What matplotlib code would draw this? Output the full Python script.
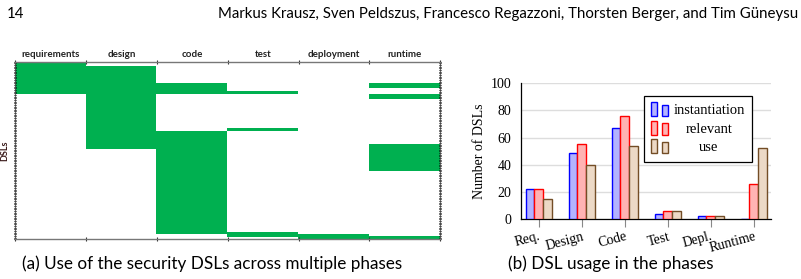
import numpy as np
import matplotlib
matplotlib.use("Agg")
import matplotlib.pyplot as plt
from matplotlib.colors import ListedColormap
from matplotlib.legend_handler import HandlerBase
from matplotlib.patches import Rectangle

# ---------------- data ----------------
phases = ["requirements", "design", "code", "test", "deployment", "runtime"]
n_dsls = 107
requirements_rows = [(0, 20)]
design_rows = [(3, 53)]
code_rows = [(13, 20), (42, 104)]
test_rows = [(18, 20), (40, 42), (103, 106)]
deployment_rows = [(104, 107)]
runtime_rows = [(13, 16), (20, 23), (50, 66), (105, 107)]

categories = ["Req.", "Design", "Code", "Test", "Depl.", "Runtime"]
instantiation = [22, 49, 67, 4, 2, 0]
relevant = [22, 55, 76, 6, 2, 26]
use = [15, 40, 54, 6, 2, 52]
series_names = ["instantiation", "relevant", "use"]

# ---------------- figure ----------------
fig = plt.figure(figsize=(8.01, 2.79), dpi=100)
W, H = 801, 279

def axrect(x0, y0, x1, y1):
    return [x0 / W, 1 - y1 / H, (x1 - x0) / W, (y1 - y0) / H]

sans = "Lato"
serif = "Liberation Serif"
green = "#00B050"

# ---------- heatmap ----------
ax1 = fig.add_axes(axrect(15.5, 61.7, 440, 239.3))
all_rows = [requirements_rows, design_rows, code_rows, test_rows,
            deployment_rows, runtime_rows]
mat = np.zeros((n_dsls, len(phases)))
for j, rows in enumerate(all_rows):
    for a, b in rows:
        mat[a:b, j] = 1
ax1.imshow(mat, aspect="auto", interpolation="nearest",
           cmap=ListedColormap(["white", green]), vmin=0, vmax=1,
           extent=(0, len(phases), n_dsls, 0))
ax1.set_xlim(0, len(phases))
ax1.set_ylim(n_dsls, 0)
ax1.xaxis.tick_top()
ax1.set_xticks(np.arange(len(phases)) + 0.5)
ax1.set_xticklabels(phases, fontsize=7, fontweight="bold", family=sans,
                    color="#222222")
ax1.tick_params(axis="x", which="major", length=0, pad=2, top=True,
                bottom=False)
ax1.set_xticks(np.arange(len(phases) + 1), minor=True)
ax1.tick_params(axis="x", which="minor", length=2.5, direction="inout",
                top=True, bottom=True, color="#333333", width=0.8)
ax1.set_yticks([])
ax1.set_yticks(np.arange(n_dsls + 1), minor=True)
ax1.tick_params(axis="y", which="minor", length=1.5, direction="inout",
                left=True, right=True, color="black", width=0.8)
for s in ["top", "bottom"]:
    ax1.spines[s].set_color("#777777")
    ax1.spines[s].set_linewidth(1.0)
for s in ["left", "right"]:
    ax1.spines[s].set_color("#555555")
    ax1.spines[s].set_linewidth(0.6)
ax1.set_ylabel("DSLs", fontsize=6.5, fontweight="bold", family=sans,
               color="#3a1a1a")
ax1.yaxis.set_label_coords(-(15.5 - 9.5) / 424.5, 0.5)

# ---------- bar chart ----------
ax2 = fig.add_axes(axrect(521, 83.3, 771, 219))
x = np.arange(len(categories))
bw = 0.2
styles = [("#B3B3FF", "#0000FF"), ("#FFB3B3", "#FF0000"), ("#ECD9C6", "#734D26")]
containers = []
for k, (vals, (fc, ec)) in enumerate(zip([instantiation, relevant, use], styles)):
    c = ax2.bar(x + (k - 1) * bw, vals, width=bw, facecolor=fc, edgecolor=ec,
                linewidth=1.0, zorder=3, label=series_names[k])
    containers.append(c)
ax2.set_xlim(-0.41, 5.40)
ax2.set_ylim(0, 100)
ax2.set_yticks([0, 20, 40, 60, 80, 100])
ax2.yaxis.grid(True, color="#DDDDDD", linewidth=1.0, zorder=0)
ax2.set_axisbelow(True)
ax2.set_xticks(x)
ax2.set_xticklabels(categories, rotation=15, ha="right",
                    rotation_mode="anchor", fontsize=10, family=serif)
for lab in ax2.get_yticklabels():
    lab.set_family(serif)
    lab.set_fontsize(10)
ax2.tick_params(axis="x", length=6, color="#888888", width=0.8, pad=2)
ax2.tick_params(axis="y", length=0, pad=7)
for s in ["top", "right"]:
    ax2.spines[s].set_visible(False)
for s in ["left", "bottom"]:
    ax2.spines[s].set_color("black")
    ax2.spines[s].set_linewidth(0.9)
ax2.set_ylabel("Number of DSLs", fontsize=10, family=serif, labelpad=3)


class TwoBarHandler(HandlerBase):
    def create_artists(self, legend, orig_handle, xdescent, ydescent,
                       width, height, fontsize, trans):
        patch = orig_handle.patches[0] if hasattr(orig_handle, "patches") else orig_handle
        fc = patch.get_facecolor()
        ec = patch.get_edgecolor()
        w = width * 0.34
        r1 = Rectangle((-xdescent, -ydescent - 1), w, height * 1.25,
                       facecolor=fc, edgecolor=ec, linewidth=1.0,
                       transform=trans)
        r2 = Rectangle((-xdescent + width * 0.66, -ydescent - 1), w,
                       height * 1.0, facecolor=fc, edgecolor=ec,
                       linewidth=1.0, transform=trans)
        return [r1, r2]


leg = ax2.legend(containers, series_names, loc="upper right",
                 bbox_to_anchor=(0.924, 0.906), borderaxespad=0,
                 fancybox=False, edgecolor="black", framealpha=1,
                 prop={"family": serif, "size": 10.5},
                 handler_map={type(containers[0]): TwoBarHandler()},
                 handlelength=1.2, handleheight=0.8, handletextpad=0.34,
                 labelspacing=0.35, borderpad=0.5)
leg.get_frame().set_linewidth(0.9)

# ---------- page text ----------
fig.text(7 / W, 1 - 14 / H, "14", fontsize=10.8, family=sans, va="center",
         ha="left")
fig.text(798 / W, 1 - 14 / H,
         "Markus Krausz, Sven Peldszus, Francesco Regazzoni, Thorsten Berger, and Tim Güneysu",
         fontsize=10.8, family=sans, va="center", ha="right")
fig.text(212 / W, 1 - 264 / H,
         "(a) Use of the security DSLs across multiple phases",
         fontsize=12.3, family=sans, va="center", ha="center")
fig.text(611 / W, 1 - 264 / H, "(b) DSL usage in the phases",
         fontsize=12.3, family=sans, va="center", ha="center")

# center legend labels within their column (as in the reference)
fig.canvas.draw()
renderer = fig.canvas.get_renderer()
widths = [t.get_window_extent(renderer).width for t in leg.get_texts()]
wmax = max(widths)
for t, w in zip(leg.get_texts(), widths):
    t.set_x((wmax - w) / 2)

fig.savefig("out.png", dpi=100)
